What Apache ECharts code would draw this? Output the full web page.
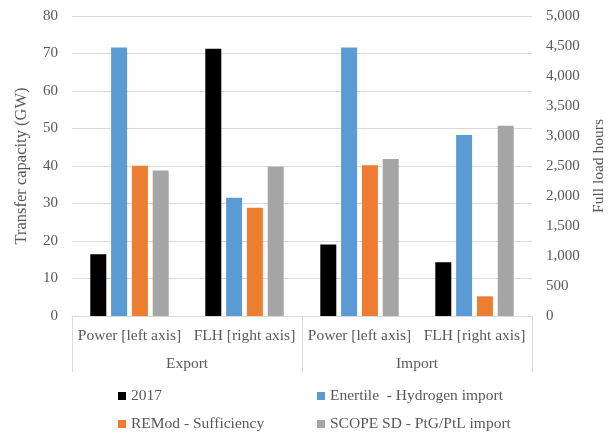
<!DOCTYPE html>
<html>
<head>
<meta charset="utf-8">
<script src="https://cdn.jsdelivr.net/npm/echarts@6/dist/echarts.min.js"></script>
<style>html,body{margin:0;padding:0;background:#fff}#c{width:608px;height:432px}</style>
</head>
<body>
<div id="c"></div>
<script>
// Categories
var categories = ['Power [left axis]', 'FLH [right axis]', 'Power [left axis]', 'FLH [right axis]'];
var groups = ['Export', 'Import'];
var seriesNames = ['2017', 'Enertile  - Hydrogen import', 'REMod - Sufficiency', 'SCOPE SD - PtG/PtL import'];
var seriesColors = ['#000000', '#5b9bd5', '#ed7d31', '#a5a5a5'];
// Transfer capacity (GW) [Export Power, Import Power]
var power2017 = [16.5, 19.1];
var powerEnertile = [71.6, 71.6];
var powerREMod = [40.1, 40.2];
var powerSCOPE = [38.8, 41.9];
// Full load hours [Export FLH, Import FLH]
var flh2017 = [4456, 894];
var flhEnertile = [1972, 3017];
var flhREMod = [1805, 328];
var flhSCOPE = [2489, 3172];
// Axis ticks
var leftMin = 0, leftMax = 80, leftStep = 10;
var rightMin = 0, rightMax = 5000, rightStep = 500;

var powerData = [power2017, powerEnertile, powerREMod, powerSCOPE];
var flhData = [flh2017, flhEnertile, flhREMod, flhSCOPE];

var font = 'Liberation Serif';
var txt = '#595959';
var gridColor = '#d9d9d9';

var series = [];
seriesNames.forEach(function (name, i) {
  series.push({
    name: name, type: 'bar', xAxisIndex: 0, yAxisIndex: 0,
    barWidth: 16, barGap: '30%',
    itemStyle: { color: seriesColors[i] },
    data: [powerData[i][0], null, powerData[i][1], null]
  });
});
seriesNames.forEach(function (name, i) {
  series.push({
    name: name, type: 'bar', xAxisIndex: 1, yAxisIndex: 1,
    barWidth: 16, barGap: '30%',
    itemStyle: { color: seriesColors[i] },
    data: [null, flhData[i][0], null, flhData[i][1]]
  });
});

// legend layout: 2 columns x 2 rows
var legendPos = [
  { left: 118, top: 388 },
  { left: 317, top: 388 },
  { left: 118, top: 416 },
  { left: 317, top: 416 }
];
var legends = seriesNames.map(function (name, i) {
  return {
    data: [name], left: legendPos[i].left, top: legendPos[i].top, padding: 0,
    icon: 'rect', itemWidth: 8, itemHeight: 8,
    textStyle: { fontFamily: font, fontSize: 15.5, color: txt }
  };
});

var chart = echarts.init(document.getElementById('c'), null, { renderer: 'canvas' });
chart.setOption({
  animation: false,
  textStyle: { fontFamily: font },
  grid: { left: 72, right: 76, top: 16, bottom: 116, containLabel: false, outerBoundsMode: 'none' },
  xAxis: [
    {
      type: 'category', data: categories, position: 'bottom',
      axisLine: { show: false }, axisTick: { show: false },
      axisLabel: { fontFamily: font, fontSize: 15.5, color: txt, margin: 12, interval: 0 }
    },
    {
      type: 'category', data: categories, show: false
    },
    {
      type: 'category', data: groups, position: 'bottom',
      axisLine: { show: true, lineStyle: { color: gridColor } },
      axisTick: { show: true, length: 56, lineStyle: { color: gridColor } },
      axisLabel: { fontFamily: font, fontSize: 15.5, color: txt, margin: 40, interval: 0 }
    }
  ],
  yAxis: [
    {
      type: 'value', min: leftMin, max: leftMax, interval: leftStep,
      name: 'Transfer capacity (GW)', nameLocation: 'middle', nameRotate: 90, nameGap: 42,
      nameTextStyle: { fontFamily: font, fontSize: 16.5, color: txt },
      axisLine: { show: false }, axisTick: { show: false },
      axisLabel: { fontFamily: font, fontSize: 15, color: txt, margin: 14 },
      splitLine: { show: true, lineStyle: { color: gridColor } }
    },
    {
      type: 'value', min: rightMin, max: rightMax, interval: rightStep, position: 'right',
      name: 'Full load hours', nameLocation: 'middle', nameRotate: 90, nameGap: 57,
      nameTextStyle: { fontFamily: font, fontSize: 15.5, color: txt },
      axisLine: { show: false }, axisTick: { show: false },
      axisLabel: {
        fontFamily: font, fontSize: 15, color: txt, margin: 14,
        formatter: function (v) { return v.toLocaleString('en-US'); }
      },
      splitLine: { show: false }
    }
  ],
  legend: legends,
  series: series
});
</script>
</body>
</html>
